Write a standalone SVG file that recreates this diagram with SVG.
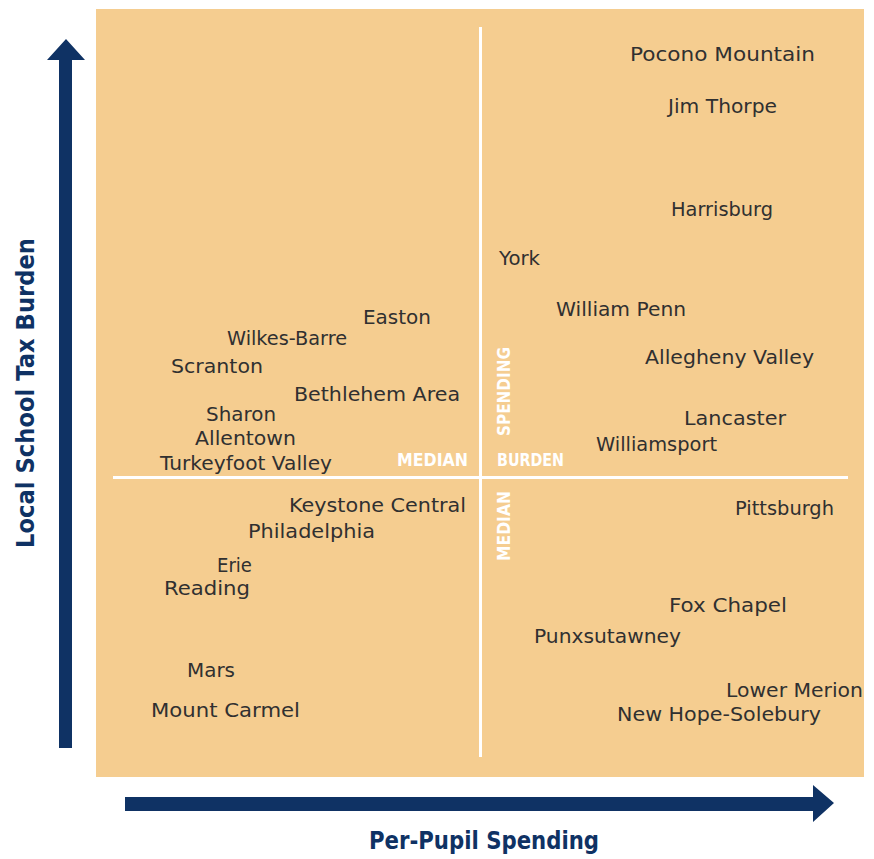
<svg xmlns="http://www.w3.org/2000/svg" width="874" height="859" viewBox="0 0 874 859">
<style>
.n{font-family:"DejaVu Sans","Liberation Sans",sans-serif;font-size:20px;fill:#303030}
.m{font-family:"DejaVu Sans","Liberation Sans",sans-serif;font-size:18px;font-weight:bold;fill:#ffffff}
.ax{font-family:"DejaVu Sans","Liberation Sans",sans-serif;font-weight:bold;fill:#0f3264}
.arrow{fill:#0f3264}
.med{stroke:#ffffff;stroke-width:3}
</style>
<rect width="874" height="859" fill="#ffffff"/>
<rect id="plot" x="96" y="9" width="768" height="768" fill="#f5cd90"/>
<g id="connectors">
<line class="med" x1="480.5" y1="27" x2="480.5" y2="757"/>
<line class="med" x1="113" y1="477.5" x2="848" y2="477.5"/>
<polygon class="arrow" points="59,748 59,60 47,60 66,39 85,60 72,60 72,748"/>
<polygon class="arrow" points="125,797 813,797 813,785 834,803 813,822 813,811 125,811"/>
</g>
<g id="axis-labels">
<text id="x-label" class="ax" font-size="24" x="484" y="849" text-anchor="middle" textLength="230" lengthAdjust="spacingAndGlyphs">Per-Pupil Spending</text>
<text id="y-label" class="ax" font-size="25" transform="translate(34,393) rotate(-90)" text-anchor="middle" textLength="310" lengthAdjust="spacingAndGlyphs">Local School Tax Burden</text>
</g>
<g id="median-labels">
<text id="median-h" class="m" x="397" y="466" textLength="71" lengthAdjust="spacingAndGlyphs">MEDIAN</text>
<text id="burden" class="m" x="497" y="466" textLength="67" lengthAdjust="spacingAndGlyphs">BURDEN</text>
<text id="spending" class="m" transform="translate(510,436) rotate(-90)" textLength="89" lengthAdjust="spacingAndGlyphs">SPENDING</text>
<text id="median-v" class="m" transform="translate(510,561) rotate(-90)" textLength="70" lengthAdjust="spacingAndGlyphs">MEDIAN</text>
</g>
<g id="pocono"><text class="n" x="630" y="61" textLength="185" lengthAdjust="spacingAndGlyphs">Pocono Mountain</text></g>
<g id="jim-thorpe"><text class="n" x="668" y="113" textLength="109" lengthAdjust="spacingAndGlyphs">Jim Thorpe</text></g>
<g id="harrisburg"><text class="n" x="671" y="216" textLength="102" lengthAdjust="spacingAndGlyphs">Harrisburg</text></g>
<g id="york"><text class="n" x="499" y="265" textLength="41" lengthAdjust="spacingAndGlyphs">York</text></g>
<g id="william-penn"><text class="n" x="556" y="316" textLength="130" lengthAdjust="spacingAndGlyphs">William Penn</text></g>
<g id="easton"><text class="n" x="363" y="324" textLength="68" lengthAdjust="spacingAndGlyphs">Easton</text></g>
<g id="wilkes-barre"><text class="n" x="227" y="345" textLength="120" lengthAdjust="spacingAndGlyphs">Wilkes-Barre</text></g>
<g id="allegheny-valley"><text class="n" x="645" y="364" textLength="169" lengthAdjust="spacingAndGlyphs">Allegheny Valley</text></g>
<g id="scranton"><text class="n" x="171" y="373" textLength="92" lengthAdjust="spacingAndGlyphs">Scranton</text></g>
<g id="bethlehem"><text class="n" x="294" y="401" textLength="166" lengthAdjust="spacingAndGlyphs">Bethlehem Area</text></g>
<g id="sharon"><text class="n" x="206" y="421" textLength="70" lengthAdjust="spacingAndGlyphs">Sharon</text></g>
<g id="lancaster"><text class="n" x="684" y="425" textLength="102" lengthAdjust="spacingAndGlyphs">Lancaster</text></g>
<g id="allentown"><text class="n" x="195" y="445" textLength="101" lengthAdjust="spacingAndGlyphs">Allentown</text></g>
<g id="williamsport"><text class="n" x="596" y="451" textLength="121" lengthAdjust="spacingAndGlyphs">Williamsport</text></g>
<g id="turkeyfoot"><text class="n" x="160" y="470" textLength="172" lengthAdjust="spacingAndGlyphs">Turkeyfoot Valley</text></g>
<g id="keystone"><text class="n" x="289" y="512" textLength="177" lengthAdjust="spacingAndGlyphs">Keystone Central</text></g>
<g id="pittsburgh"><text class="n" x="735" y="515" textLength="99" lengthAdjust="spacingAndGlyphs">Pittsburgh</text></g>
<g id="philadelphia"><text class="n" x="248" y="538" textLength="127" lengthAdjust="spacingAndGlyphs">Philadelphia</text></g>
<g id="erie"><text class="n" x="217" y="572" textLength="35" lengthAdjust="spacingAndGlyphs">Erie</text></g>
<g id="reading"><text class="n" x="164" y="595" textLength="86" lengthAdjust="spacingAndGlyphs">Reading</text></g>
<g id="fox-chapel"><text class="n" x="669" y="612" textLength="118" lengthAdjust="spacingAndGlyphs">Fox Chapel</text></g>
<g id="punxsutawney"><text class="n" x="534" y="643" textLength="147" lengthAdjust="spacingAndGlyphs">Punxsutawney</text></g>
<g id="mars"><text class="n" x="187" y="677" textLength="48" lengthAdjust="spacingAndGlyphs">Mars</text></g>
<g id="lower-merion"><text class="n" x="726" y="697" textLength="137" lengthAdjust="spacingAndGlyphs">Lower Merion</text></g>
<g id="mount-carmel"><text class="n" x="151" y="717" textLength="149" lengthAdjust="spacingAndGlyphs">Mount Carmel</text></g>
<g id="new-hope"><text class="n" x="617" y="721" textLength="204" lengthAdjust="spacingAndGlyphs">New Hope-Solebury</text></g>
</svg>
